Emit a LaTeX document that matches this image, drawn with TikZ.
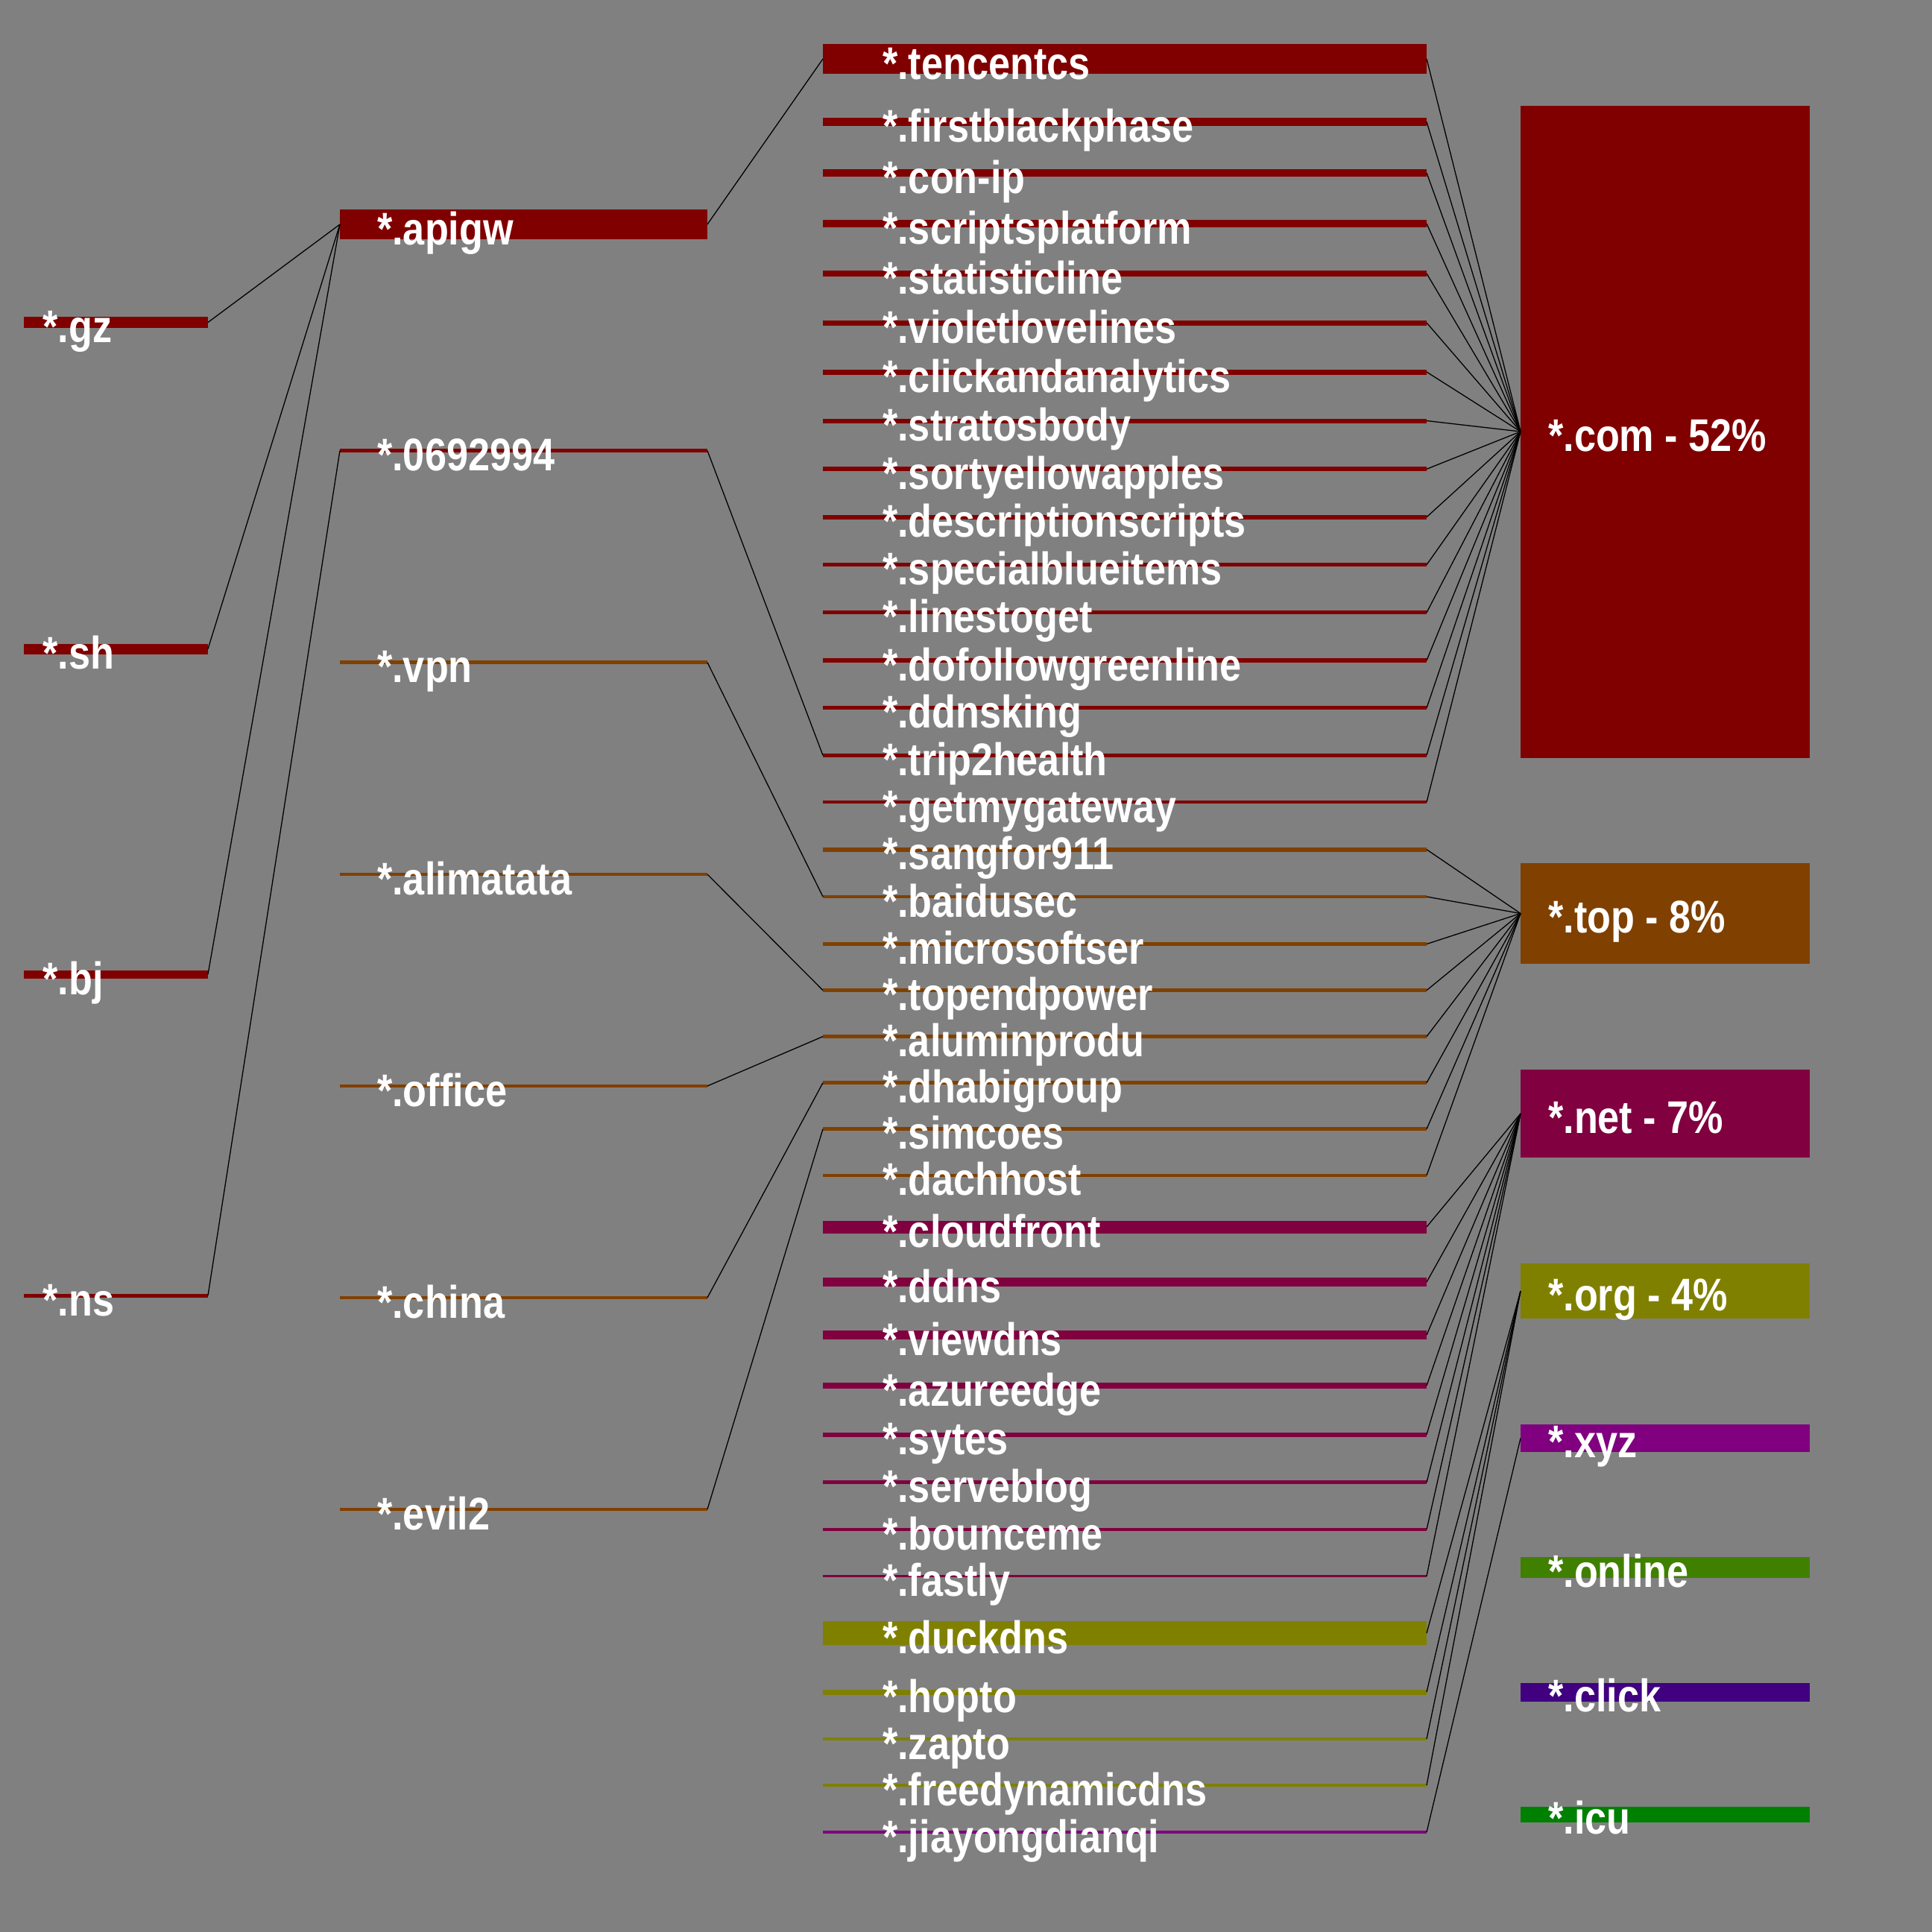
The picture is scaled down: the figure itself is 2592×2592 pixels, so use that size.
\documentclass[tikz,border=0pt]{standalone}
\usepackage{fontspec}
\setmainfont{Liberation Sans}
\usetikzlibrary{calc}

\definecolor{bggray}{HTML}{808080}
\definecolor{comred}{HTML}{800000}
\definecolor{topbrown}{HTML}{804000}
\definecolor{netwine}{HTML}{800040}
\definecolor{orgolive}{HTML}{808000}
\definecolor{xyzpurple}{HTML}{800080}
\definecolor{onlinegreen}{HTML}{408000}
\definecolor{clickindigo}{HTML}{400080}
\definecolor{icugreen}{HTML}{008000}

\tikzset{
    bar/.style={rectangle, inner sep=0pt, outer sep=0pt, anchor=west, minimum height=#1},
    tag/.style={anchor=base west, inner sep=0pt, text=white, xscale=0.85,
        font=\fontsize{61.4}{61.4}\selectfont\bfseries},
    link/.style={black, line width=1.3pt}
}

\begin{document}
\begin{tikzpicture}[x=1pt, y=-1pt]
        % Background
        \fill[bggray] (0,0) rectangle (2592,2592);
        \useasboundingbox (0,0) rectangle (2592,2592);

        % Column 1 - left labels
        \foreach \nm/\yc/\thk in {gz/432.5/15, sh/870.6/14, bj/1307/11, ns/1738/5}{
            \node[bar=\thk, fill=comred, minimum width=247] (\nm) at (32,\yc) {};
            \node[tag] (\nm-t) at ($(\nm.west)+(25.5,27)$) {*.\nm};
        }

        % Column 2
        \foreach \nm/\txt/\yc/\thk/\clr in {apigw/apigw/301/40/comred,
            n0692994/0692994/604.5/5/comred, vpn/vpn/888.6/5/topbrown,
            alimatata/alimatata/1173/4.6/topbrown, office/office/1457/4.6/topbrown,
            china/china/1741/4.6/topbrown, evil2/evil2/2025/4/topbrown}{
            \node[bar=\thk, fill=\clr, minimum width=493] (\nm) at (456,\yc) {};
            \node[tag] (\nm-t) at ($(\nm.west)+(50,27)$) {*.\txt};
        }

        % Column 3
        \foreach \nm/\yc/\thk/\clr in {tencentcs/79/40/comred,
            firstblackphase/163.5/11/comred, con-ip/232/10/comred,
            scriptsplatform/300/10/comred, statisticline/367/8/comred,
            violetlovelines/433/7/comred, clickandanalytics/499/7/comred,
            stratosbody/564.5/6/comred, sortyellowapples/629.3/6.3/comred,
            descriptionscripts/693.7/6/comred, specialblueitems/757.7/5.3/comred,
            linestoget/821.8/5/comred, dofollowgreenline/886/5.3/comred,
            ddnsking/949.8/5/comred, trip2health/1013.3/4.7/comred,
            getmygateway/1076/4.7/comred,
            sangfor911/1139.7/5.8/topbrown, baidusec/1203/4.5/topbrown,
            microsoftser/1266.5/4.5/topbrown, topendpower/1328.6/4.5/topbrown,
            aluminprodu/1390.6/4.5/topbrown, dhabigroup/1452.7/4.5/topbrown,
            simcoes/1514.7/4.5/topbrown, dachhost/1576.8/4.5/topbrown,
            cloudfront/1646/17/netwine, ddns/1720/12/netwine,
            viewdns/1791/12/netwine, azureedge/1859/8.5/netwine,
            sytes/1924.6/6/netwine, serveblog/1988.7/5/netwine,
            bounceme/2052/4.6/netwine, fastly/2114.6/3.5/netwine,
            duckdns/2191/32/orgolive, hopto/2270/7/orgolive,
            zapto/2333/4/orgolive, freedynamicdns/2395/4/orgolive,
            jiayongdianqi/2458/4.5/xyzpurple}{
            \node[bar=\thk, fill=\clr, minimum width=810] (\nm) at (1104,\yc) {};
            \node[tag] (\nm-t) at ($(\nm.west)+(80,27)$) {*.\nm};
        }

        % Column 4 - top level domains
        \foreach \nm/\txt/\yc/\thk/\clr in {tldcom/com - 52\%/579/875/comred,
            tldtop/top - 8\%/1225.5/135.5/topbrown, tldnet/net - 7\%/1494/118.8/netwine,
            tldorg/org - 4\%/1732/74.6/orgolive, tldxyz/xyz/1929.5/36.6/xyzpurple,
            tldonline/online/2103/27.7/onlinegreen, tldclick/click/2270.5/25/clickindigo,
            tldicu/icu/2434.5/21/icugreen}{
            \node[bar=\thk, fill=\clr, minimum width=388] (\nm) at (2040,\yc) {};
            \node[tag] (\nm-t) at ($(\nm.west)+(37,26)$) {*.\txt};
        }

        % Links column 1 -> column 2
        \foreach \src in {gz, sh, bj}
            \draw[link] (\src.east) -- (apigw.west);
        \draw[link] (ns.east) -- (n0692994.west);

        % Links column 2 -> column 3
        \foreach \src/\dst in {apigw/tencentcs, n0692994/trip2health, vpn/baidusec,
            alimatata/topendpower, office/aluminprodu, china/dhabigroup, evil2/simcoes}
            \draw[link] (\src.east) -- (\dst.west);

        % Links column 3 -> column 4
        \foreach \src in {tencentcs, firstblackphase, con-ip, scriptsplatform,
            statisticline, violetlovelines, clickandanalytics, stratosbody,
            sortyellowapples, descriptionscripts, specialblueitems, linestoget,
            dofollowgreenline, ddnsking, trip2health, getmygateway}
            \draw[link] (\src.east) -- (tldcom.west);
        \foreach \src in {sangfor911, baidusec, microsoftser, topendpower,
            aluminprodu, dhabigroup, simcoes, dachhost}
            \draw[link] (\src.east) -- (tldtop.west);
        \foreach \src in {cloudfront, ddns, viewdns, azureedge, sytes,
            serveblog, bounceme, fastly}
            \draw[link] (\src.east) -- (tldnet.west);
        \foreach \src in {duckdns, hopto, zapto, freedynamicdns}
            \draw[link] (\src.east) -- (tldorg.west);
        \draw[link] (jiayongdianqi.east) -- (tldxyz.west);
    \end{tikzpicture}
\end{document}
